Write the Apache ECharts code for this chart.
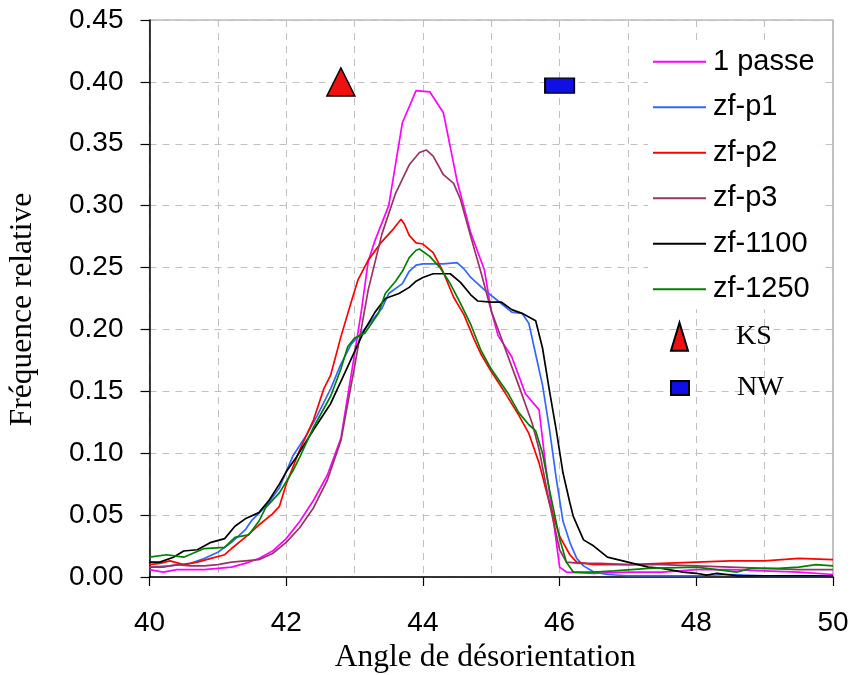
<!DOCTYPE html>
<html>
<head>
<meta charset="utf-8">
<script src="https://cdn.jsdelivr.net/npm/echarts@6/dist/echarts.min.js"></script>
<style>html,body{margin:0;padding:0;background:#fff}#c{width:853px;height:675px}</style>
</head>
<body>
<div id="c"></div>
<script>
// ---- data (angle, relative frequency) ----
const passe1 = [[40.0,0.006],[40.2,0.004],[40.4,0.006],[40.6,0.006],[40.8,0.006],[41.0,0.007],[41.2,0.008],[41.4,0.011],[41.6,0.015],[41.8,0.021],[42.0,0.031],[42.2,0.045],[42.4,0.062],[42.6,0.082],[42.8,0.112],[43.0,0.18],[43.1,0.215],[43.2,0.255],[43.3,0.272],[43.5,0.30],[43.7,0.367],[43.9,0.393],[44.1,0.392],[44.3,0.375],[44.5,0.32],[44.7,0.278],[44.9,0.248],[45.0,0.215],[45.1,0.195],[45.3,0.178],[45.5,0.148],[45.7,0.135],[45.8,0.088],[45.9,0.05],[46.0,0.008],[46.1,0.004],[46.5,0.003],[47.0,0.004],[47.5,0.004],[48.0,0.006],[48.5,0.006],[49.0,0.005],[49.5,0.004],[50.0,0.002]];
const zfp1 = [[40.0,0.008],[40.3,0.009],[40.6,0.011],[40.8,0.015],[41.0,0.020],[41.2,0.028],[41.4,0.038],[41.5,0.046],[41.7,0.057],[41.9,0.072],[42.1,0.098],[42.3,0.115],[42.45,0.13],[42.65,0.152],[42.8,0.172],[42.95,0.188],[43.1,0.197],[43.25,0.207],[43.4,0.217],[43.5,0.229],[43.7,0.237],[43.8,0.247],[43.9,0.252],[44.0,0.253],[44.3,0.253],[44.5,0.254],[44.6,0.249],[44.7,0.242],[44.9,0.232],[45.1,0.223],[45.3,0.214],[45.45,0.213],[45.55,0.205],[45.65,0.18],[45.75,0.155],[45.85,0.12],[45.95,0.08],[46.05,0.045],[46.15,0.028],[46.25,0.015],[46.35,0.009],[46.5,0.004],[46.7,0.002],[47.0,0.001],[47.5,0.001],[48.0,0.001],[48.5,0.002],[49.0,0.001],[49.5,0.001],[50.0,0.001]];
const zfp2 = [[40.0,0.010],[40.15,0.011],[40.3,0.013],[40.5,0.010],[40.7,0.012],[40.9,0.015],[41.1,0.018],[41.2,0.023],[41.4,0.032],[41.6,0.042],[41.8,0.051],[41.9,0.057],[42.0,0.075],[42.2,0.103],[42.4,0.127],[42.55,0.152],[42.65,0.163],[42.8,0.194],[42.95,0.222],[43.05,0.24],[43.2,0.256],[43.4,0.271],[43.55,0.28],[43.68,0.289],[43.73,0.285],[43.8,0.276],[43.9,0.27],[44.0,0.269],[44.15,0.262],[44.3,0.246],[44.45,0.226],[44.6,0.212],[44.75,0.192],[44.85,0.18],[45.0,0.166],[45.2,0.149],[45.4,0.131],[45.55,0.116],[45.7,0.092],[45.85,0.06],[46.0,0.033],[46.15,0.018],[46.25,0.012],[46.5,0.010],[47.0,0.010],[47.5,0.011],[48.0,0.012],[48.5,0.013],[49.0,0.013],[49.5,0.015],[50.0,0.014]];
const zfp3 = [[40.0,0.008],[40.2,0.008],[40.4,0.010],[40.6,0.009],[40.8,0.009],[41.0,0.010],[41.2,0.012],[41.4,0.013],[41.6,0.014],[41.8,0.019],[42.0,0.028],[42.2,0.040],[42.4,0.056],[42.6,0.078],[42.8,0.11],[43.0,0.17],[43.2,0.232],[43.4,0.277],[43.6,0.31],[43.8,0.333],[43.95,0.343],[44.05,0.345],[44.15,0.34],[44.3,0.325],[44.45,0.318],[44.55,0.305],[44.7,0.275],[44.85,0.246],[45.0,0.215],[45.2,0.185],[45.4,0.155],[45.6,0.124],[45.7,0.103],[45.85,0.06],[46.0,0.022],[46.1,0.012],[46.3,0.011],[46.6,0.011],[47.0,0.010],[47.5,0.010],[48.0,0.009],[48.5,0.008],[49.0,0.007],[49.5,0.006],[50.0,0.006]];
const zf1100 = [[40.0,0.012],[40.15,0.012],[40.35,0.016],[40.5,0.021],[40.7,0.022],[40.9,0.028],[41.1,0.031],[41.25,0.041],[41.4,0.047],[41.6,0.052],[41.75,0.062],[41.9,0.075],[42.0,0.085],[42.15,0.097],[42.4,0.119],[42.65,0.14],[42.9,0.17],[43.0,0.182],[43.15,0.2],[43.3,0.214],[43.45,0.225],[43.65,0.229],[43.8,0.234],[43.9,0.239],[44.0,0.242],[44.15,0.245],[44.4,0.245],[44.55,0.238],[44.7,0.228],[44.8,0.223],[45.0,0.222],[45.15,0.222],[45.3,0.216],[45.45,0.213],[45.65,0.207],[45.75,0.185],[45.85,0.151],[45.95,0.119],[46.05,0.084],[46.15,0.06],[46.2,0.049],[46.35,0.03],[46.5,0.025],[46.7,0.016],[46.85,0.014],[47.0,0.012],[47.3,0.008],[47.5,0.007],[47.8,0.004],[48.0,0.003],[48.15,0.0015],[48.3,0.003],[48.6,0.001],[49.0,0.001],[49.5,0.001],[50.0,0.001]];
const zf1250 = [[40.0,0.016],[40.25,0.018],[40.5,0.016],[40.8,0.023],[41.1,0.024],[41.25,0.032],[41.45,0.034],[41.6,0.045],[41.7,0.056],[41.9,0.068],[42.1,0.086],[42.2,0.097],[42.4,0.121],[42.65,0.146],[42.8,0.168],[42.9,0.186],[43.0,0.193],[43.15,0.197],[43.25,0.205],[43.35,0.213],[43.45,0.229],[43.6,0.239],[43.7,0.247],[43.8,0.258],[43.9,0.264],[43.95,0.265],[44.0,0.263],[44.1,0.259],[44.25,0.25],[44.4,0.237],[44.55,0.221],[44.7,0.204],[44.85,0.183],[45.0,0.168],[45.1,0.16],[45.25,0.148],[45.4,0.133],[45.55,0.123],[45.65,0.118],[45.75,0.1],[45.85,0.071],[46.0,0.031],[46.1,0.012],[46.2,0.004],[46.5,0.004],[46.8,0.005],[47.3,0.007],[48.0,0.008],[48.3,0.006],[48.6,0.004],[48.8,0.007],[49.2,0.007],[49.5,0.008],[49.75,0.010],[50.0,0.009]];
const ksPoint = [[42.8, 0.400]];
const nwPoint = [[46.0, 0.397]];
const lineNames = ['1 passe','zf-p1','zf-p2','zf-p3','zf-1100','zf-1250'];
const lineData = [passe1, zfp1, zfp2, zfp3, zf1100, zf1250];
const lineColors = ['#FF00FF','#3366FF','#FF0000','#993366','#000000','#008000'];
const xName = 'Angle de désorientation';
const yName = 'Fréquence relative';

const chart = echarts.init(document.getElementById('c'));
const dash = {type:[7,6], color:'#c0c0c0', width:1};
const series = lineNames.map((n,i)=>({
  name:n, type:'line', data:lineData[i], symbol:'none', smooth:false,
  lineStyle:{color:lineColors[i], width:1.7}, itemStyle:{color:lineColors[i]}, z:3
}));
series.push({name:'KS', type:'scatter', data:ksPoint, symbol:'triangle', symbolSize:[28,28],
  itemStyle:{color:'#EE1111', borderColor:'#000', borderWidth:1.5, opacity:1}, z:4});
series.push({name:'NW', type:'scatter', data:nwPoint, symbol:'rect', symbolSize:[29,15],
  itemStyle:{color:'#1010E6', borderColor:'#000', borderWidth:1.5, opacity:1}, z:4});

chart.setOption({
  animation:false,
  backgroundColor:'#fff',
  grid:{left:149.5, right:20, top:20, bottom:98, show:true, borderColor:'#999', borderWidth:1.2,
    backgroundColor:'transparent', outerBoundsMode:'none', containLabel:false},
  xAxis:[{
    type:'value', min:40, max:50, interval:2,
    name:xName, nameLocation:'middle', nameGap:63,
    nameTextStyle:{fontFamily:'Liberation Serif', fontSize:31.5, color:'#000', padding:[0,12,0,0]},
    axisLine:{lineStyle:{color:'#000', width:1.5}},
    axisTick:{show:true, inside:false, length:9, lineStyle:{color:'#000', width:1.2}},
    axisLabel:{fontFamily:'Liberation Sans', fontSize:28, color:'#000', margin:32},
    splitLine:{show:false}
  },{
    type:'value', min:40, max:50, interval:1, position:'top',
    axisLine:{show:false}, axisTick:{show:false}, axisLabel:{show:false},
    splitLine:{show:true, lineStyle:dash}
  }],
  yAxis:{
    type:'value', min:0, max:0.45, interval:0.05,
    name:yName, nameLocation:'middle', nameGap:111,
    nameTextStyle:{fontFamily:'Liberation Serif', fontSize:31.5, color:'#000', padding:[0,22,0,0]},
    axisLine:{show:true, lineStyle:{color:'#000', width:1.5}},
    axisTick:{show:true, inside:false, length:9, lineStyle:{color:'#000', width:1.2}},
    axisLabel:{fontFamily:'Liberation Sans', fontSize:28, color:'#000', margin:26,
      formatter:v=>v.toFixed(2)},
    splitLine:{show:true, lineStyle:dash}
  },
  legend:[{
    data:lineNames, orient:'vertical', left:648, top:41.7, padding:5,
    backgroundColor:'#fff', itemGap:15.5, itemWidth:53, itemHeight:2, icon:'rect',
    textStyle:{fontFamily:'Liberation Sans', fontSize:29, color:'#000', lineHeight:30, padding:[0,0,0,2]}
  },{
    data:[{name:'KS', icon:'triangle'}], left:670, top:321.7, padding:0,
    itemWidth:17, itemHeight:28,
    textStyle:{fontFamily:'Liberation Serif', fontSize:28, color:'#000', lineHeight:28, padding:[0,0,0,43]}
  },{
    data:[{name:'NW', icon:'rect'}], left:670, top:374, padding:0,
    itemWidth:18, itemHeight:14,
    textStyle:{fontFamily:'Liberation Serif', fontSize:28, color:'#000', lineHeight:28, padding:[0,0,0,43]}
  }],
  series:series
});
</script>
</body>
</html>
